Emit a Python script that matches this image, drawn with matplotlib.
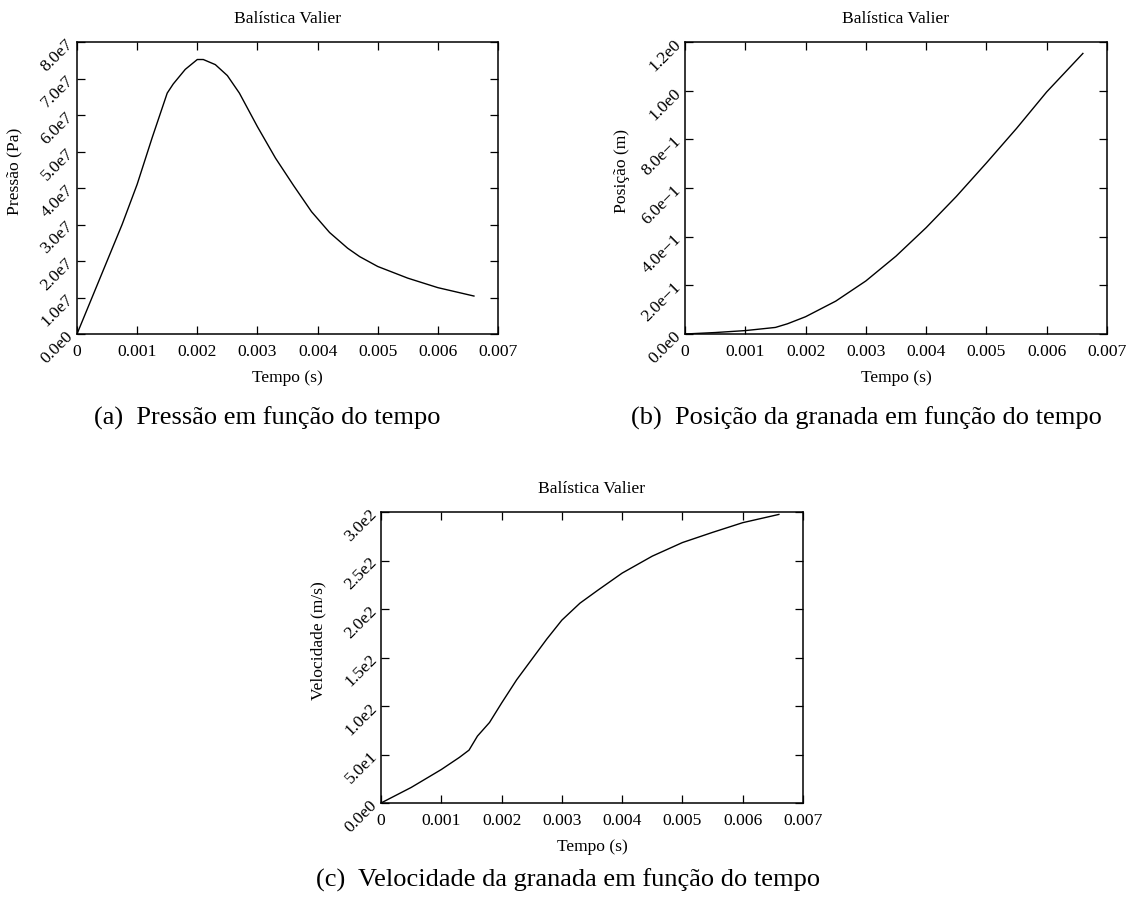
"""Valier interior ballistics: pressure, position and velocity of the shell."""
import matplotlib
matplotlib.use("Agg")
import matplotlib.pyplot as plt
from matplotlib.ticker import FixedLocator, FixedFormatter

plt.rcParams['font.family'] = ['Liberation Serif', 'DejaVu Serif']

MINUS = '\u2212'

# Pressure curve (Pa)
t_p = [0, 0.00025, 0.0005, 0.00075, 0.001, 0.00125, 0.0015, 0.0016, 0.0018,
       0.002, 0.0021, 0.0023, 0.0025, 0.0027, 0.003, 0.0033, 0.0036, 0.0039,
       0.0042, 0.0045, 0.0047, 0.005, 0.0055, 0.006, 0.0066]
pressao = [0, 1.0e7, 2.0e7, 3.0e7, 4.1e7, 5.38e7, 6.6e7, 6.85e7, 7.25e7,
           7.52e7, 7.52e7, 7.38e7, 7.08e7, 6.6e7, 5.68e7, 4.82e7, 4.07e7, 3.35e7,
           2.78e7, 2.35e7, 2.12e7, 1.85e7, 1.53e7, 1.27e7, 1.04e7]

# Shell position (m)
t_x = [0, 0.0005, 0.001, 0.0015, 0.0017, 0.002, 0.0025, 0.003, 0.0035,
       0.004, 0.0045, 0.005, 0.0055, 0.006, 0.0066]
posicao = [0, 0.006, 0.014, 0.027, 0.042, 0.071, 0.135, 0.218, 0.32,
           0.437, 0.565, 0.703, 0.845, 0.995, 1.153]

# Shell velocity (m/s)
t_v = [0, 0.0005, 0.001, 0.0013, 0.00146, 0.0016, 0.0018, 0.002, 0.00225,
       0.0025, 0.00275, 0.003, 0.0033, 0.0036, 0.004, 0.0045, 0.005, 0.0055,
       0.006, 0.0066]
velocidade = [0, 16, 34.5, 47, 54.5, 69, 83, 103, 127,
              148, 169, 188.5, 206, 219.5, 237, 254.5, 268.5, 279,
              289, 297.5]

x_ticks = [0, 0.001, 0.002, 0.003, 0.004, 0.005, 0.006, 0.007]
x_labels = ['0', '0.001', '0.002', '0.003', '0.004', '0.005', '0.006', '0.007']

p_ticks = [0, 1e7, 2e7, 3e7, 4e7, 5e7, 6e7, 7e7, 8e7]
p_labels = ['0.0e0', '1.0e7', '2.0e7', '3.0e7', '4.0e7', '5.0e7', '6.0e7',
            '7.0e7', '8.0e7']
x_pos_ticks = [0, 0.2, 0.4, 0.6, 0.8, 1.0, 1.2]
x_pos_labels = ['0.0e0', '2.0e' + MINUS + '1', '4.0e' + MINUS + '1',
                '6.0e' + MINUS + '1', '8.0e' + MINUS + '1', '1.0e0', '1.2e0']
v_ticks = [0, 50, 100, 150, 200, 250, 300]
v_labels = ['0.0e0', '5.0e1', '1.0e2', '1.5e2', '2.0e2', '2.5e2', '3.0e2']

W, H = 1136, 906
fig = plt.figure(figsize=(W / 100, H / 100), dpi=100, facecolor='w')


def px_axes(left, top, right, bottom):
    return fig.add_axes([left / W, 1 - bottom / H, (right - left) / W,
                         (bottom - top) / H])


def style(ax, yticks, ylabels, ylim, ylabel):
    ax.set_xlim(0, 0.007)
    ax.set_ylim(*ylim)
    ax.xaxis.set_major_locator(FixedLocator(x_ticks))
    ax.xaxis.set_major_formatter(FixedFormatter(x_labels))
    ax.yaxis.set_major_locator(FixedLocator(yticks))
    ax.yaxis.set_major_formatter(FixedFormatter(ylabels))
    ax.tick_params(direction='in', length=5.8, width=0.9, top=True,
                   right=True, labelsize=12.6, colors='black')
    ax.tick_params(axis='x', pad=7.0)
    ax.tick_params(axis='y', pad=4.5, labelrotation=45)
    for lbl in ax.get_yticklabels():
        lbl.set_ha('right')
        lbl.set_va('center')
        lbl.set_rotation_mode('anchor')
    for sp in ax.spines.values():
        sp.set_linewidth(1.1)
    ax.set_title('Balística Valier', fontsize=12.6, y=1.065, pad=0)
    ax.set_xlabel('Tempo (s)', fontsize=12.6)
    ax.xaxis.set_label_coords(0.5, -0.125)
    ax.set_ylabel(ylabel, fontsize=12.6)
    ax.yaxis.set_label_coords(-0.13, 0.557)


ax_a = px_axes(77, 42, 498, 334)
ax_a.plot(t_p, pressao, color='black', lw=1.0)
style(ax_a, p_ticks, p_labels, (0, 8e7), 'Pressão (Pa)')

ax_b = px_axes(685, 42, 1107, 334)
ax_b.plot(t_x, posicao, color='black', lw=1.0)
style(ax_b, x_pos_ticks, x_pos_labels, (0, 1.2), 'Posição (m)')

ax_c = px_axes(381, 512, 803, 803)
ax_c.plot(t_v, velocidade, color='black', lw=1.0)
style(ax_c, v_ticks, v_labels, (0, 300), 'Velocidade (m/s)')

# subfigure captions
fig.text(267 / W, 1 - 418 / H, '(a)  Pressão em função do tempo',
         ha='center', va='center', fontsize=19)
fig.text(866 / W, 1 - 418 / H, '(b)  Posição da granada em função do tempo',
         ha='center', va='center', fontsize=19)
fig.text(568 / W, 1 - 880 / H, '(c)  Velocidade da granada em função do tempo',
         ha='center', va='center', fontsize=19)

plt.savefig('out.png', dpi=100, facecolor='w')
